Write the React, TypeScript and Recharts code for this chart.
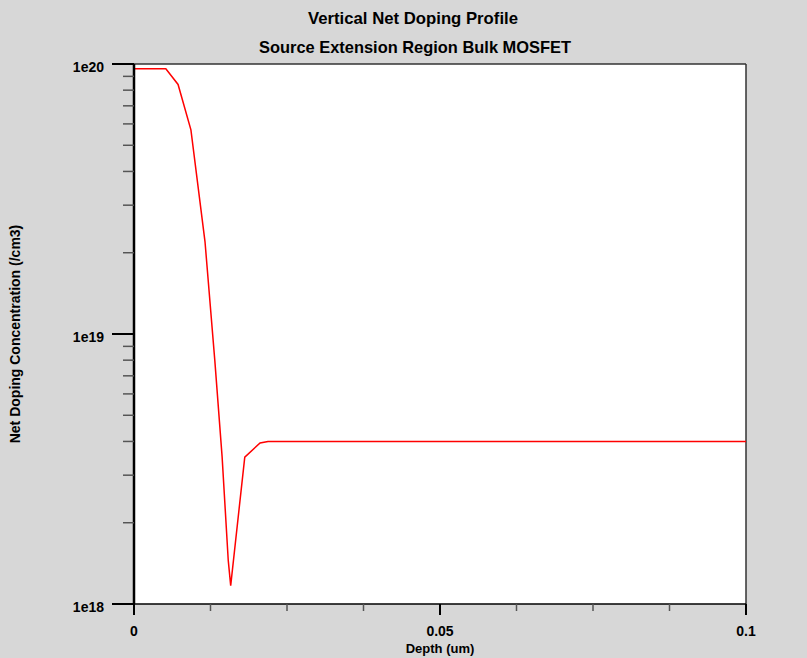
import React from 'react';
import {
  LineChart,
  Line,
  XAxis,
  YAxis,
  CartesianGrid,
  ReferenceLine,
  Customized,
} from 'recharts';

// Net doping vs. depth below the source extension
const depthUm = [0, 0.0052, 0.0072, 0.0093, 0.0116, 0.0132, 0.0144, 0.0154, 0.0158, 0.0181, 0.0206, 0.0219, 0.1];
const netDoping = [9.6e19, 9.6e19, 8.4e19, 5.7e19, 2.2e19, 8.0e18, 3.5e18, 1.45e18, 1.17e18, 3.5e18, 3.95e18, 4.0e18, 4.0e18];

const xTicks = [0, 0.0125, 0.025, 0.0375, 0.05, 0.0625, 0.075, 0.0875, 0.1];
const xMajorTicks = [0, 0.05, 0.1];
const xTickLabels = ['0', '0.05', '0.1'];

const yTicks = [
  1e18, 2e18, 3e18, 4e18, 5e18, 6e18, 7e18, 8e18, 9e18,
  1e19, 2e19, 3e19, 4e19, 5e19, 6e19, 7e19, 8e19, 9e19,
  1e20,
];
const yMajorTicks = [1e18, 1e19, 1e20];
const yTickLabels = ['1e18', '1e19', '1e20'];

const titleLines = ['Vertical Net Doping Profile', 'Source Extension Region Bulk MOSFET'];
const xAxisTitle = 'Depth (um)';
const yAxisTitle = 'Net Doping Concentration (/cm3)';

const data = depthUm.map((d, i) => ({ depth: d, doping: netDoping[i] }));

const FONT = '"Liberation Sans", Arial, sans-serif';

function YTick(props: any) {
  const { x, y, payload } = props;
  const idx = yMajorTicks.indexOf(payload.value);
  if (idx >= 0) {
    return (
      <g>
        <line x1={x - 22} x2={x} y1={y} y2={y} stroke="#000" strokeWidth={2} />
        <text
          x={x - 30}
          y={y + 8}
          textAnchor="end"
          fontFamily={FONT}
          fontWeight="bold"
          fontSize={14}
          fill="#000"
        >
          {yTickLabels[idx]}
        </text>
      </g>
    );
  }
  return <line x1={x - 11} x2={x} y1={y} y2={y} stroke="#555" strokeWidth={1.5} />;
}

function XTick(props: any) {
  const { x, y, payload } = props;
  const idx = xMajorTicks.indexOf(payload.value);
  if (idx >= 0) {
    return (
      <g>
        <line x1={x} x2={x} y1={y} y2={y + 11} stroke="#000" strokeWidth={2} />
        <text
          x={x}
          y={y + 32}
          textAnchor="middle"
          fontFamily={FONT}
          fontWeight="bold"
          fontSize={14}
          fill="#000"
        >
          {xTickLabels[idx]}
        </text>
      </g>
    );
  }
  return <line x1={x} x2={x} y1={y} y2={y + 7} stroke="#555" strokeWidth={1.5} />;
}

function Annotations() {
  return (
    <g fontFamily={FONT} fill="#000">
      <text
        x={413}
        y={24}
        textAnchor="middle"
        fontSize={17}
        fontWeight="bold"
        textLength={210}
        lengthAdjust="spacingAndGlyphs"
      >
        {titleLines[0]}
      </text>
      <text
        x={415}
        y={53}
        textAnchor="middle"
        fontSize={17}
        fontWeight="bold"
        textLength={312}
        lengthAdjust="spacingAndGlyphs"
      >
        {titleLines[1]}
      </text>
      <text x={440} y={653} textAnchor="middle" fontSize={13} fontWeight="bold">
        {xAxisTitle}
      </text>
      <text
        x={0}
        y={0}
        transform="translate(20,334) rotate(-90)"
        textAnchor="middle"
        fontSize={14}
        fontWeight="bold"
      >
        {yAxisTitle}
      </text>
    </g>
  );
}

export default function App() {
  return (
    <div style={{ position: 'absolute', left: 0, top: 0, width: 807, height: 658, background: '#d7d7d7' }}>
      <LineChart
        width={807}
        height={658}
        data={data}
        margin={{ top: 64, right: 61, bottom: 0, left: 0 }}
      >
        <CartesianGrid fill="#ffffff" horizontal={false} vertical={false} />
        <XAxis
          type="number"
          dataKey="depth"
          domain={[0, 0.1]}
          ticks={xTicks}
          interval={0}
          tickSize={0}
          tickMargin={0}
          tickLine={false}
          tick={<XTick />}
          axisLine={{ stroke: '#000', strokeWidth: 1.5 }}
          height={54}
          allowDataOverflow
        />
        <YAxis
          type="number"
          scale="log"
          domain={[1e18, 1e20]}
          ticks={yTicks}
          interval={0}
          tickSize={0}
          tickMargin={0}
          tickLine={false}
          tick={<YTick />}
          axisLine={{ stroke: '#000', strokeWidth: 2.5 }}
          width={134}
          allowDataOverflow
        />
        <ReferenceLine y={1e20} stroke="#333" strokeWidth={1.5} />
        <ReferenceLine x={0.1} stroke="#333" strokeWidth={1.5} />
        <Line
          type="linear"
          dataKey="doping"
          stroke="#ff0000"
          strokeWidth={1.5}
          dot={false}
          isAnimationActive={false}
        />
        <Customized component={Annotations} />
      </LineChart>
    </div>
  );
}
